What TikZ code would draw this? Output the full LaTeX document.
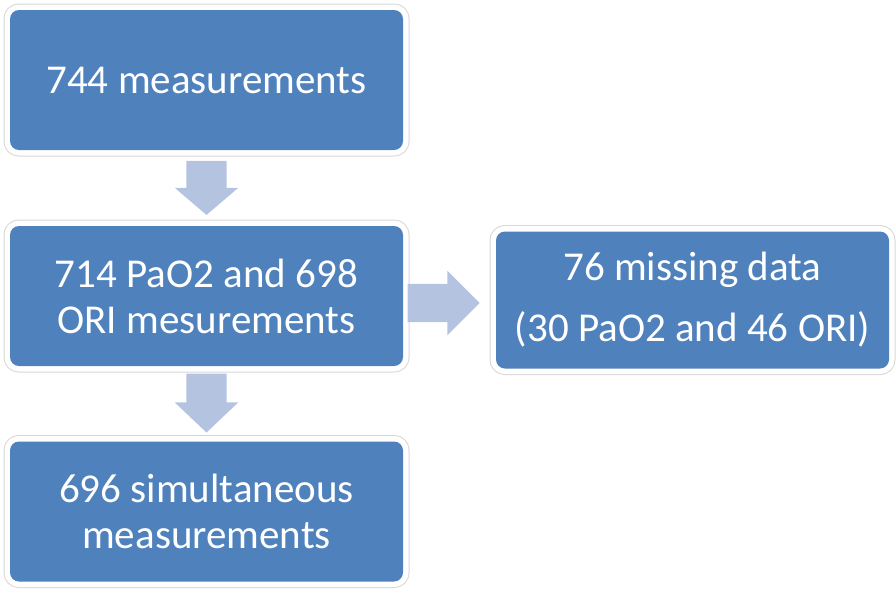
\documentclass[tikz,border=0pt]{standalone}
\usepackage{fontspec}
\setmainfont{Carlito}
\usetikzlibrary{shapes.arrows,calc}
\definecolor{boxblue}{RGB}{79,129,189}
\definecolor{arrowblue}{RGB}{180,196,224}
\definecolor{frameline}{RGB}{215,215,215}
\begin{document}
\begin{tikzpicture}[x=1pt,y=-1pt,
  bluebox/.style={fill=boxblue, rounded corners=9pt, minimum width=393pt, minimum height=140pt,
    text=white, align=center, inner sep=0pt,
    font=\fontsize{41}{46}\selectfont,
    preaction={draw=frameline, line width=13pt},
    preaction={draw=white, line width=11pt}},
  blockarrow/.style={single arrow, fill=arrowblue, draw=none, inner sep=0pt,
    single arrow head indent=0pt}
]
\useasboundingbox (0,0) rectangle (896,592);
\node[bluebox] (b1) at (206.5,80) {744 measurements};
\node[bluebox] (b2) at (206.5,296) {714 PaO2 and 698\\ORI mesurements};
\node[bluebox] (b3) at (206.5,511.5) {696 simultaneous\\measurements};
\node[bluebox, minimum height=137pt] (b4) at (692.5,300) {76 missing data\\[15pt](30 PaO2 and 46 ORI)};
\node[blockarrow, minimum height=54pt, minimum width=63pt, text width=40pt,
  single arrow head extend=11.5pt, single arrow tip angle=99, shape border rotate=270,
  anchor=tip]
  (a1) at ($(b1.south)+(0,65)$) {};
\node[blockarrow, minimum height=72pt, minimum width=64pt, text width=0pt,
  text height=38pt, text depth=0pt,
  single arrow head extend=13pt, single arrow tip angle=90, anchor=tip]
  (a2) at ($(b4.west |- b2.east)+(-16,7)$) {};
\node[blockarrow, minimum height=59pt, minimum width=63pt, text width=40pt,
  single arrow head extend=11.5pt, single arrow tip angle=93, shape border rotate=270,
  anchor=tip]
  (a3) at ($(b3.north)+(0,-8.5)$) {};
\end{tikzpicture}
\end{document}
